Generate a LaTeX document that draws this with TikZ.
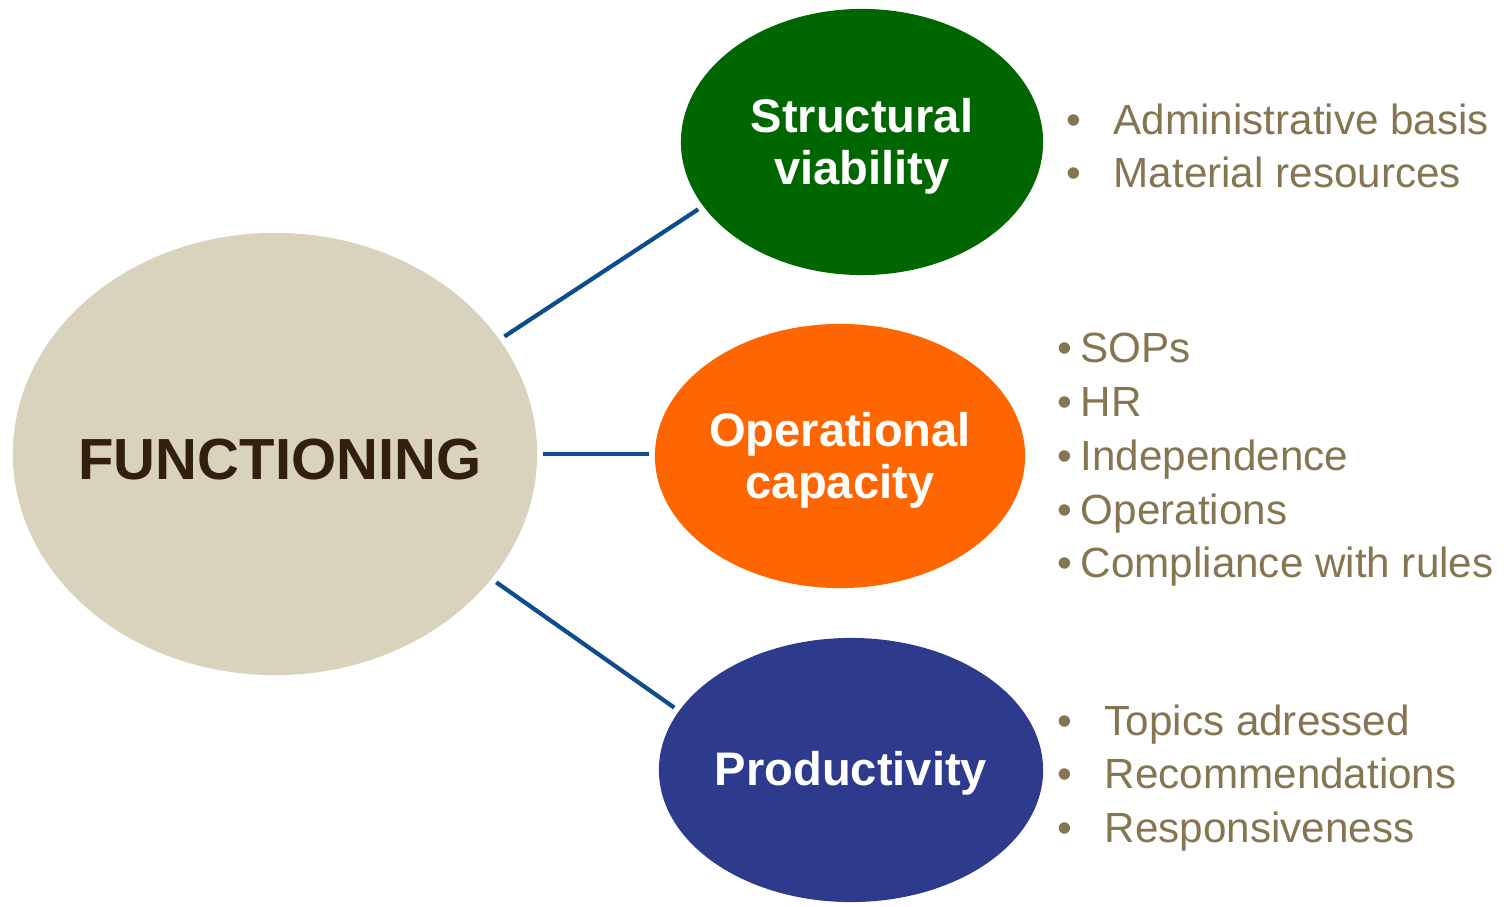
\documentclass[tikz,border=0pt]{standalone}
\usepackage{fontspec}
\setmainfont{Liberation Sans}
\usetikzlibrary{shapes.geometric}
\definecolor{beige}{HTML}{D9D2BD}
\definecolor{dgreen}{HTML}{006600}
\definecolor{dorange}{HTML}{FF6600}
\definecolor{dblue}{HTML}{2E3B8C}
\definecolor{linkblue}{HTML}{0F4C8C}
\definecolor{olive}{HTML}{857551}
\definecolor{dbrown}{HTML}{33200A}
\def\bul#1{\makebox[#1][l]{\textbullet}}
\def\dlink{\draw[linkblue,line width=1.2pt,shorten <=1.5pt,shorten >=1.5pt]}

\begin{document}
\begin{tikzpicture}[x=0.01cm,y=-0.01cm,
    blob/.style={ellipse,inner sep=0pt},
    caption/.style={inner sep=0pt,text=white,align=center,
        font=\fontsize{13.4}{14.8}\selectfont\bfseries},
    items/.style={anchor=west,inner sep=0pt,text=olive,align=left,
        font=\fontsize{12}{15.3}\selectfont}]
    \useasboundingbox (0,0) rectangle (1507,906);
    % circles
    \node[blob,fill=beige,minimum width=5.24cm,minimum height=4.42cm] (fn) at (275,454) {};
    \node[blob,fill=dgreen,minimum width=3.62cm,minimum height=2.66cm] (sv) at (862,142) {};
    \node[blob,fill=dorange,minimum width=3.70cm,minimum height=2.64cm] (oc) at (840,456) {};
    \node[blob,fill=dblue,minimum width=3.84cm,minimum height=2.64cm] (pd) at (851,770) {};
    \node[caption,text=dbrown,font=\fontsize{16.5}{18}\selectfont\bfseries] (fn-text) at (280,460) {FUNCTIONING};
    \node[caption] (sv-text) at (862,146) {Structural\\viability};
    \node[caption] (oc-text) at (840,460) {Operational\\capacity};
    \node[caption] (pd-text) at (851,773) {Productivity};
    % links
    \dlink (fn.27) -- (sv.202);
    \dlink (fn.east) -- (fn.east -| oc.west);
    \dlink (fn.-30) -- (pd.161);
    % lists
    \node[items] (sv-list) at (1066,146) {\bul{0.47cm}Administrative basis\\\bul{0.47cm}Material resources};
    \node[items] (oc-list) at (1057,460) {\bul{0.23cm}SOPs\\\bul{0.23cm}HR\\\bul{0.23cm}Independence\\
        \bul{0.23cm}Operations\\\bul{0.23cm}Compliance with rules};
    \node[items] (pd-list) at (1057,778) {\bul{0.47cm}Topics adressed\\\bul{0.47cm}Recommendations\\\bul{0.47cm}Responsiveness};
\end{tikzpicture}
\end{document}
